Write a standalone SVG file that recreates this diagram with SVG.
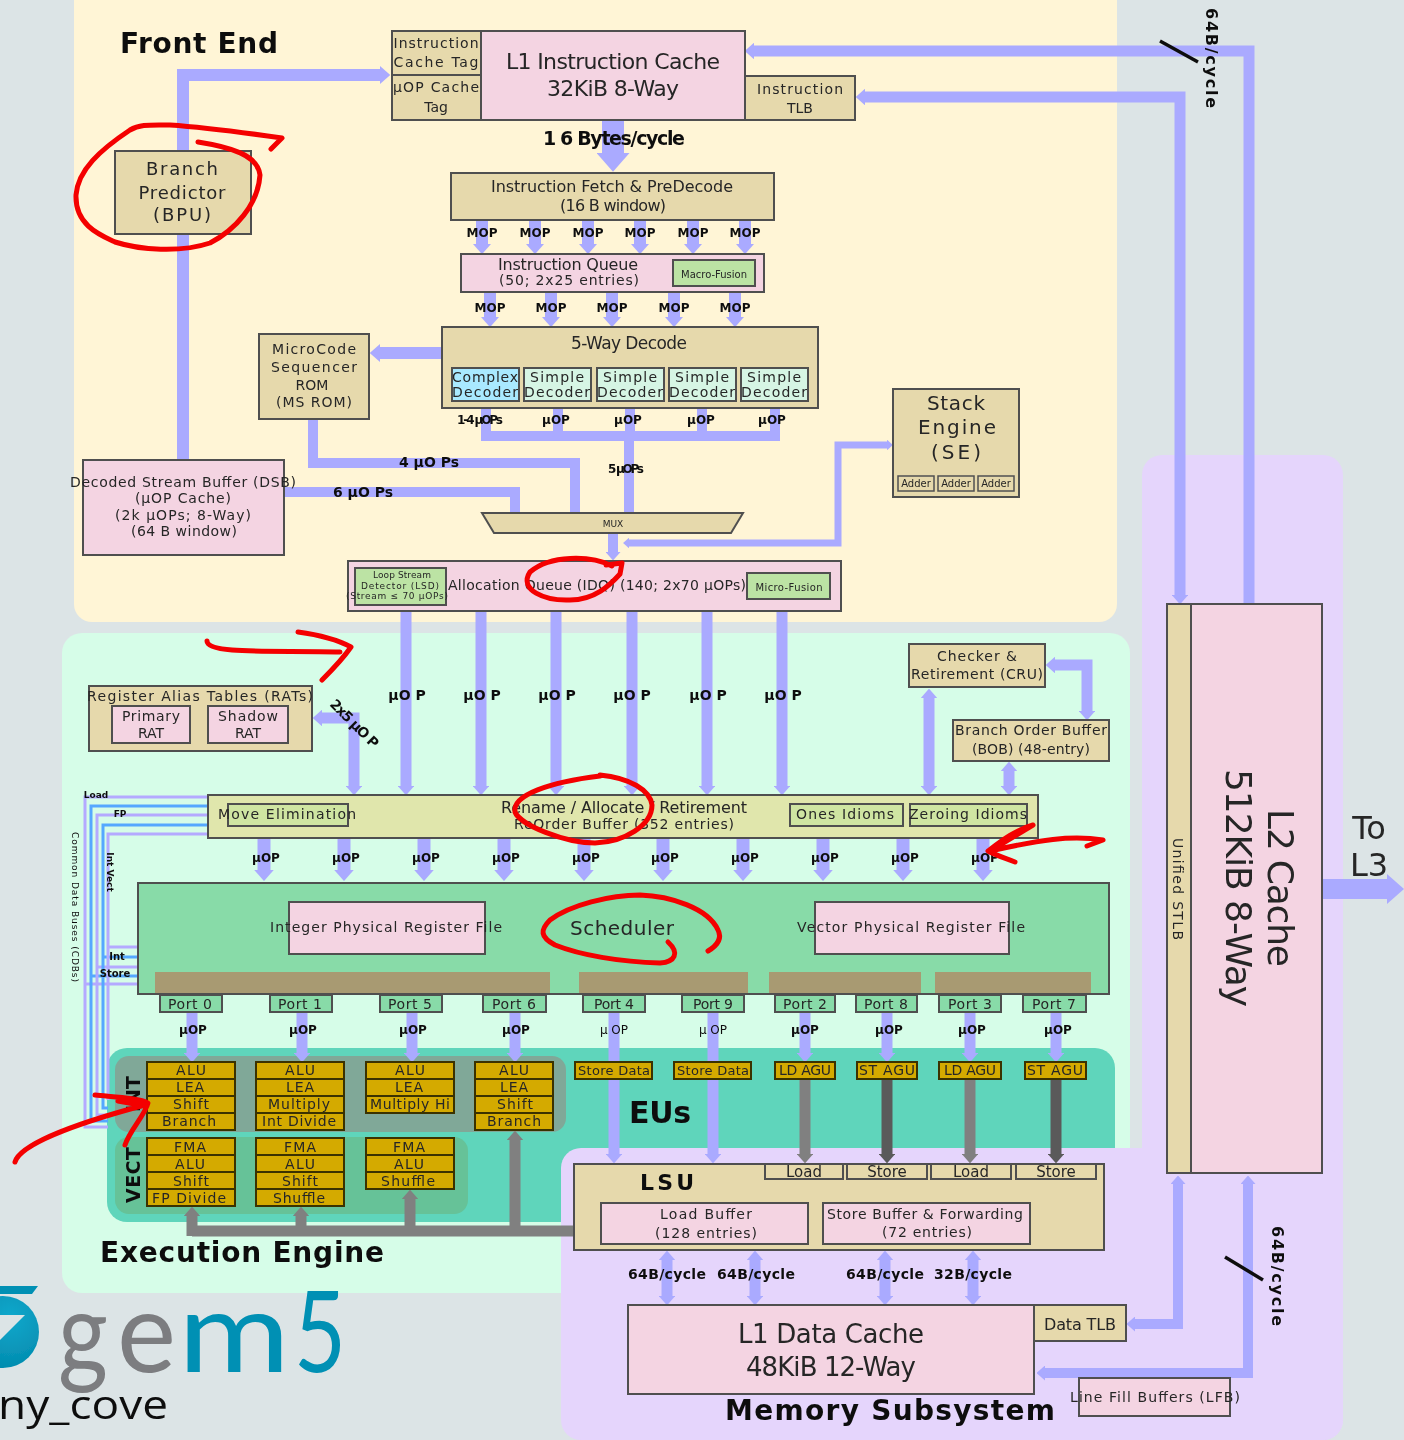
<svg xmlns="http://www.w3.org/2000/svg" width="1404" height="1440" viewBox="0 0 1404 1440">
<style>
text{font-family:"DejaVu Sans",sans-serif;text-anchor:middle;fill:#262626;font-size:14px}
.b{font-weight:700;fill:#111}
.s{font-size:12px;font-weight:700;fill:#111}
.m{font-size:14px;font-weight:700;fill:#111}
.h{font-size:28px;font-weight:700;fill:#111}
.box{stroke:#505050;stroke-width:2}
.tan{fill:#e6d9ac}.pink{fill:#f4d4e2}.grn{fill:#bce3a4}.dec{fill:#d6f5e4}.mint{fill:#88dba8}.gold{fill:#d4aa00;stroke:#3a3000;stroke-width:2}.lime{fill:#e0e6ac}
.c{fill:none;stroke:#aaaaff;stroke-width:11}
.w7{stroke-width:7}.w10{stroke-width:10}.w12{stroke-width:12}.w13{stroke-width:13}.w20{stroke-width:20}.w22{stroke-width:22}
.e{marker-end:url(#a)}.st{marker-start:url(#r)}
.g{stroke:#808080}.d{stroke:#5a5a5a}
.bus{fill:none;stroke-width:3}
.l{stroke:#b4aaff}.u{stroke:#55a8ff}
.red{fill:none;stroke:#f40000;stroke-width:5;stroke-linecap:round;stroke-linejoin:round}
.lg{font-family:Lato,sans-serif;font-size:112px;font-weight:400;text-anchor:start}
</style>
<defs>
<marker id="a" viewBox="0 0 10 10" refX="0" refY="5" markerWidth="0.85" markerHeight="1.5" orient="auto" preserveAspectRatio="none"><path d="M0 0L10 5L0 10Z" fill="context-stroke"/></marker>
<marker id="r" viewBox="0 0 10 10" refX="10" refY="5" markerWidth="0.85" markerHeight="1.5" orient="auto" preserveAspectRatio="none"><path d="M10 0L0 5L10 10Z" fill="context-stroke"/></marker>
<radialGradient id="logo" cx="0.6" cy="0.3" r="0.8"><stop offset="0" stop-color="#12a8cc"/><stop offset="1" stop-color="#0088ab"/></radialGradient>
<filter id="soft" x="0" y="0" width="100%" height="100%" filterUnits="userSpaceOnUse"><feGaussianBlur stdDeviation="0.55"/></filter>
</defs>
<rect width="1404" height="1440" fill="#dce4e6"/>
<g filter="url(#soft)">
<g id="regions">
<rect x="74" y="-20" width="1043" height="642" rx="18" fill="#fff5d6"/>
<rect x="62" y="633" width="1068" height="660" rx="20" fill="#d6fde8"/>
<rect x="107" y="1048" width="1008" height="174" rx="20" fill="#5fd5bb"/>
<rect x="115" y="1056" width="451" height="76" rx="14" fill="#80a898"/>
<rect x="115" y="1137" width="353" height="77" rx="14" fill="#66c298"/>
<rect x="1142" y="455" width="201" height="985" rx="20" fill="#e5d5fc"/>
<rect x="561" y="1148" width="782" height="292" rx="20" fill="#e5d5fc"/>
</g>
<g id="connectors">
<path class="bus l" d="M208 797H85V1127H108M138 984H85"/>
<path class="bus u" d="M208 806H91V1121H108M138 976H91"/>
<path class="bus l" d="M208 815H97V1115H108M138 967H97"/>
<path class="bus u" d="M208 825H103V1108H108M138 957H103"/>
<path class="bus l" d="M208 834H108V1100M138 947H108"/>
<path class="c w12 e" d="M183 460V75H380"/>
<path class="c e" d="M1249 604V51H754"/>
<path class="c e st" d="M1180 595V97H865"/>
<path class="c w22 e" d="M613 120V153"/>
<path class="c w12 e" d="M482 220V244"/><path class="c w12 e" d="M535 220V244"/><path class="c w12 e" d="M588 220V244"/><path class="c w12 e" d="M640 220V244"/><path class="c w12 e" d="M693 220V244"/><path class="c w12 e" d="M745 220V244"/>
<path class="c w12 e" d="M490 292V317"/><path class="c w12 e" d="M551 292V317"/><path class="c w12 e" d="M612 292V317"/><path class="c w12 e" d="M674 292V317"/><path class="c w12 e" d="M735 292V317"/>
<path class="c w12 e" d="M442 353H380"/>
<path class="c w10" d="M486 408V436H775V408M558 408V436M630 408V436M702 408V436M629 436V513"/>
<path class="c w10" d="M313 419V463H575V513"/>
<path class="c w10" d="M284 492H515V513"/>
<path class="c w10 e" d="M613 533V552"/>
<path class="c w7 e st" d="M629 543H838V445H887"/>
<path class="c e" d="M406 611V786"/><path class="c e" d="M481 611V786"/><path class="c e" d="M556 611V786"/><path class="c e" d="M632 611V786"/><path class="c e" d="M707 611V786"/><path class="c e" d="M782 611V786"/>
<path class="c e st" d="M354 786V718H322"/>
<path class="c e st" d="M929 698V786"/>
<path class="c e st" d="M1055 665H1087V711"/>
<path class="c e st" d="M1009 771V786"/>
<path class="c w13 e" d="M264 838V870"/><path class="c w13 e" d="M344 838V870"/><path class="c w13 e" d="M424 838V870"/><path class="c w13 e" d="M504 838V870"/><path class="c w13 e" d="M584 838V870"/><path class="c w13 e" d="M663 838V870"/><path class="c w13 e" d="M743 838V870"/><path class="c w13 e" d="M823 838V870"/><path class="c w13 e" d="M903 838V870"/><path class="c w13 e" d="M983 838V870"/>
<path class="c e" d="M192 1012V1053"/><path class="c e" d="M302 1012V1053"/><path class="c e" d="M412 1012V1053"/><path class="c e" d="M515 1012V1053"/><path class="c e" d="M805 1012V1053"/><path class="c e" d="M887 1012V1053"/><path class="c e" d="M970 1012V1053"/><path class="c e" d="M1056 1012V1053"/>
<path class="c e" d="M614 1012V1154"/><path class="c e" d="M713 1012V1154"/>
<path class="c g e" d="M805 1079V1154"/><path class="c d e" d="M887 1079V1154"/><path class="c g e" d="M970 1079V1154"/><path class="c d e" d="M1056 1079V1154"/>
<path class="c g" d="M574 1231H192"/>
<path class="c g e" d="M192 1236V1216"/><path class="c g e" d="M301 1231V1216"/><path class="c g e" d="M410 1231V1199"/><path class="c g e" d="M515 1231V1140"/>
<path class="c e st" d="M667 1260V1296"/><path class="c e st" d="M755 1260V1296"/><path class="c e st" d="M885 1260V1296"/><path class="c e st" d="M973 1260V1296"/>
<path class="c w10 e st" d="M1135 1324H1178V1184"/>
<path class="c w10 e st" d="M1045 1373H1248V1184"/>
<path class="c w20 e" d="M1322 889H1387"/>
<path d="M1160 41L1198 62M1225 1257L1263 1280" stroke="#111" stroke-width="3.5"/>
<text class="s" x="482" y="237">MOP</text><text class="s" x="535" y="237">MOP</text><text class="s" x="588" y="237">MOP</text><text class="s" x="640" y="237">MOP</text><text class="s" x="693" y="237">MOP</text><text class="s" x="745" y="237">MOP</text>
<text class="s" x="490" y="312">MOP</text><text class="s" x="551" y="312">MOP</text><text class="s" x="612" y="312">MOP</text><text class="s" x="674" y="312">MOP</text><text class="s" x="735" y="312">MOP</text>
<text class="s" x="480" y="424" textLength="46">1-4 µOPs</text><text class="s" x="556" y="424">µOP</text><text class="s" x="628" y="424">µOP</text><text class="s" x="701" y="424">µOP</text><text class="s" x="772" y="424">µOP</text>
<text class="m" x="429" y="467">4 µO Ps</text><text class="m" x="363" y="497">6 µO Ps</text><text class="s" x="626" y="473" textLength="36">5 µOPs</text>
<text class="b" x="614" y="145" style="font-size:19px" textLength="142">1 6 Bytes/cycle</text>
<text class="m" x="407" y="700">µO P</text><text class="m" x="482" y="700">µO P</text><text class="m" x="557" y="700">µO P</text><text class="m" x="632" y="700">µO P</text><text class="m" x="708" y="700">µO P</text><text class="m" x="783" y="700">µO P</text>
<text class="m" transform="translate(351 727) rotate(45)" textLength="62">2x5 µO P</text>
<text class="s" x="266" y="862">µOP</text><text class="s" x="346" y="862">µOP</text><text class="s" x="426" y="862">µOP</text><text class="s" x="506" y="862">µOP</text><text class="s" x="586" y="862">µOP</text><text class="s" x="665" y="862">µOP</text><text class="s" x="745" y="862">µOP</text><text class="s" x="825" y="862">µOP</text><text class="s" x="905" y="862">µOP</text><text class="s" x="985" y="862">µOP</text>
<text class="s" x="193" y="1034">µOP</text><text class="s" x="303" y="1034">µOP</text><text class="s" x="413" y="1034">µOP</text><text class="s" x="516" y="1034">µOP</text><text class="s" x="614" y="1034" style="font-weight:400">µ OP</text><text class="s" x="713" y="1034" style="font-weight:400">µ OP</text><text class="s" x="805" y="1034">µOP</text><text class="s" x="889" y="1034">µOP</text><text class="s" x="972" y="1034">µOP</text><text class="s" x="1058" y="1034">µOP</text>
<text class="s" x="96" y="798" style="font-size:9px">Load</text><text class="s" x="120" y="817" style="font-size:9px">FP</text><text class="s" x="117" y="960" style="font-size:10px">Int</text><text class="s" x="115" y="977" style="font-size:10px">Store</text>
<text class="s" transform="translate(107 872) rotate(90)" style="font-size:9px">Int Vect</text>
<text class="s" transform="translate(72 907) rotate(90)" style="font-size:9px;font-weight:400" textLength="150">Common Data Buses (CDBs)</text>
<text class="m" x="667" y="1279" textLength="78">64B/cycle</text><text class="m" x="756" y="1279" textLength="78">64B/cycle</text><text class="m" x="885" y="1279" textLength="78">64B/cycle</text><text class="m" x="973" y="1279" textLength="78">32B/cycle</text>
<text class="m" transform="translate(1206 58) rotate(90)" style="font-size:16px" textLength="100">64B/cycle</text>
<text class="m" transform="translate(1272 1276) rotate(90)" style="font-size:16px" textLength="100">64B/cycle</text>
</g>
<g id="frontend-title"><text class="h" x="199" y="53" textLength="158">Front End</text></g>
<g id="exec-title"><text class="h" x="242" y="1262" textLength="284">Execution Engine</text></g>
<g id="mem-title"><text class="h" x="890" y="1420" textLength="330">Memory Subsystem</text></g>
<g id="eus-title"><text class="h" x="660" y="1123" style="font-size:30px" textLength="62">EUs</text></g>
<g id="inst-tag"><rect class="box tan" x="392" y="31" width="89" height="44"/><text x="436" y="48" textLength="85">Instruction</text><text x="436" y="67" textLength="85">Cache Tag</text></g>
<g id="uop-tag"><rect class="box tan" x="392" y="75" width="89" height="45"/><text x="436" y="92" textLength="86">µOP Cache</text><text x="436" y="112">Tag</text></g>
<g id="l1i"><rect class="box pink" x="481" y="31" width="264" height="89"/><text x="613" y="69" style="font-size:22px" textLength="214">L1 Instruction Cache</text><text x="613" y="96" style="font-size:22px" textLength="132">32KiB 8-Way</text></g>
<g id="itlb"><rect class="box tan" x="745" y="76" width="110" height="44"/><text x="800" y="94" textLength="86">Instruction</text><text x="800" y="113">TLB</text></g>
<g id="bpu"><rect class="box tan" x="115" y="151" width="136" height="83"/><text x="182" y="175" style="font-size:18px" textLength="72">Branch</text><text x="182" y="199" style="font-size:18px" textLength="87">Predictor</text><text x="182" y="221" style="font-size:18px" textLength="58">(BPU)</text></g>
<g id="fetch"><rect class="box tan" x="451" y="173" width="323" height="47"/><text x="612" y="192" style="font-size:16px" textLength="242">Instruction Fetch &amp; PreDecode</text><text x="613" y="211" style="font-size:16px" textLength="106">(16 B window)</text></g>
<g id="iq"><rect class="box pink" x="461" y="254" width="303" height="38"/><text x="568" y="270" style="font-size:16px" textLength="140">Instruction Queue</text><text x="569" y="285" textLength="140">(50; 2x25 entries)</text><rect class="box grn" x="673" y="260" width="82" height="26"/><text x="714" y="278" style="font-size:10px" textLength="66">Macro-Fusion</text></g>
<g id="decode"><rect class="box tan" x="442" y="327" width="376" height="81"/><text x="629" y="349" style="font-size:17px" textLength="116">5-Way Decode</text>
<rect class="box" fill="#a9e9ff" x="452" y="368" width="67" height="33"/><text x="485" y="382" textLength="66">Complex</text><text x="485" y="397" textLength="66">Decoder</text>
<rect class="box dec" x="524" y="368" width="67" height="33"/><text x="557" y="382" textLength="54">Simple</text><text x="557" y="397" textLength="66">Decoder</text>
<rect class="box dec" x="597" y="368" width="67" height="33"/><text x="630" y="382" textLength="54">Simple</text><text x="630" y="397" textLength="66">Decoder</text>
<rect class="box dec" x="669" y="368" width="67" height="33"/><text x="702" y="382" textLength="54">Simple</text><text x="702" y="397" textLength="66">Decoder</text>
<rect class="box dec" x="741" y="368" width="67" height="33"/><text x="774" y="382" textLength="54">Simple</text><text x="774" y="397" textLength="66">Decoder</text></g>
<g id="msrom"><rect class="box tan" x="259" y="334" width="110" height="85"/><text x="314" y="354" textLength="84">MicroCode</text><text x="314" y="372" textLength="86">Sequencer</text><text x="312" y="390">ROM</text><text x="314" y="407" textLength="76">(MS ROM)</text></g>
<g id="se"><rect class="box tan" x="893" y="389" width="126" height="108"/><text x="956" y="410" style="font-size:20px" textLength="58">Stack</text><text x="957" y="434" style="font-size:20px" textLength="78">Engine</text><text x="956" y="459" style="font-size:20px" textLength="50">(SE)</text>
<rect class="box tan" style="stroke-width:1.5" x="898" y="476" width="36" height="15"/><text style="font-size:10px" x="916" y="487">Adder</text><rect class="box tan" style="stroke-width:1.5" x="938" y="476" width="36" height="15"/><text style="font-size:10px" x="956" y="487">Adder</text><rect class="box tan" style="stroke-width:1.5" x="978" y="476" width="36" height="15"/><text style="font-size:10px" x="996" y="487">Adder</text></g>
<g id="dsb"><rect class="box pink" x="83" y="460" width="201" height="95"/><text x="183" y="487" textLength="226">Decoded Stream Buffer (DSB)</text><text x="183" y="503" textLength="96">(µOP Cache)</text><text x="183" y="520" textLength="136">(2k µOPs; 8-Way)</text><text x="184" y="536" textLength="106">(64 B window)</text></g>
<g id="mux"><polygon class="box tan" points="482,513 743,513 731,533 494,533"/><text x="613" y="527" style="font-size:9px">MUX</text></g>
<g id="idq"><rect class="box pink" x="348" y="561" width="493" height="50"/><text x="597" y="590" textLength="298">Allocation Queue (IDQ) (140; 2x70 µOPs)</text>
<rect class="box grn" x="355" y="568" width="91" height="37"/><text x="402" y="578" style="font-size:9px" textLength="58">Loop Stream</text><text x="400" y="589" style="font-size:9px" textLength="78">Detector (LSD)</text><text x="397" y="599" style="font-size:9px" textLength="102">(Stream ≤ 70 µOPs)</text>
<rect class="box grn" x="747" y="573" width="83" height="26"/><text x="789" y="591" style="font-size:10px" textLength="67">Micro-Fusion</text></g>
<g id="cru"><rect class="box tan" x="909" y="644" width="136" height="43"/><text x="977" y="661" textLength="80">Checker &amp;</text><text x="977" y="679" textLength="132">Retirement (CRU)</text></g>
<g id="bob"><rect class="box tan" x="953" y="720" width="156" height="41"/><text x="1031" y="735" textLength="152">Branch Order Buffer</text><text x="1031" y="754" textLength="118">(BOB) (48-entry)</text></g>
<g id="rat"><rect class="box tan" x="89" y="686" width="223" height="65"/><text x="200" y="701" textLength="226">Register Alias Tables (RATs)</text><rect class="box pink" x="112" y="706" width="78" height="37"/><text x="151" y="721" textLength="58">Primary</text><text x="151" y="738">RAT</text><rect class="box pink" x="208" y="706" width="80" height="37"/><text x="248" y="721" textLength="60">Shadow</text><text x="248" y="738">RAT</text></g>
<g id="rob"><rect class="box lime" x="208" y="795" width="830" height="43"/><text x="624" y="813" style="font-size:16px" textLength="246">Rename / Allocate / Retirement</text><text x="624" y="829" textLength="220">ReOrder Buffer (352 entries)</text>
<rect class="box" fill="#cfe5a2" x="228" y="804" width="120" height="22"/><text x="287" y="819" textLength="138">Move Elimination</text>
<rect class="box" fill="#cfe5a2" x="790" y="804" width="113" height="22"/><text x="845" y="819" textLength="98">Ones Idioms</text>
<rect class="box" fill="#cfe5a2" x="910" y="804" width="117" height="22"/><text x="968" y="819" textLength="118">Zeroing Idioms</text></g>
<g id="scheduler"><rect class="box mint" x="138" y="883" width="971" height="111"/><rect class="box pink" x="289" y="902" width="196" height="52"/><text x="386" y="932" textLength="232">Integer Physical Register File</text><rect class="box pink" x="815" y="902" width="194" height="52"/><text x="911" y="932" textLength="228">Vector Physical Register File</text><text x="622" y="935" style="font-size:20px" textLength="104">Scheduler</text>
<rect fill="#a89a72" x="155" y="972" width="395" height="21"/><rect fill="#a89a72" x="579" y="972" width="169" height="21"/><rect fill="#a89a72" x="769" y="972" width="152" height="21"/><rect fill="#a89a72" x="935" y="972" width="156" height="21"/></g>
<g id="ports">
<rect class="box mint" x="160" y="995" width="62" height="17"/><text x="190" y="1009" textLength="44">Port 0</text>
<rect class="box mint" x="270" y="995" width="62" height="17"/><text x="300" y="1009" textLength="44">Port 1</text>
<rect class="box mint" x="380" y="995" width="62" height="17"/><text x="410" y="1009" textLength="44">Port 5</text>
<rect class="box mint" x="483" y="995" width="63" height="17"/><text x="514" y="1009" textLength="44">Port 6</text>
<rect class="box mint" x="583" y="995" width="62" height="17"/><text x="614" y="1009" textLength="40">Port 4</text>
<rect class="box mint" x="682" y="995" width="62" height="17"/><text x="713" y="1009" textLength="40">Port 9</text>
<rect class="box mint" x="775" y="995" width="60" height="17"/><text x="805" y="1009" textLength="44">Port 2</text>
<rect class="box mint" x="856" y="995" width="61" height="17"/><text x="886" y="1009" textLength="44">Port 8</text>
<rect class="box mint" x="939" y="995" width="62" height="17"/><text x="970" y="1009" textLength="44">Port 3</text>
<rect class="box mint" x="1023" y="995" width="63" height="17"/><text x="1054" y="1009" textLength="44">Port 7</text>
</g>
<g id="eu-labels"><text class="b" transform="translate(140 1094) rotate(-90)" style="font-size:19px">INT</text><text class="b" transform="translate(140 1175) rotate(-90)" style="font-size:19px" textLength="56">VECT</text></g>
<g id="eu0"><rect class="gold" x="147" y="1062" width="88" height="17"/><text x="191" y="1075" textLength="30">ALU</text><rect class="gold" x="147" y="1079" width="88" height="17"/><text x="190" y="1092" textLength="28">LEA</text><rect class="gold" x="147" y="1096" width="88" height="17"/><text x="191" y="1109" textLength="36">Shift</text><rect class="gold" x="147" y="1113" width="88" height="17"/><text x="189" y="1126" textLength="54">Branch</text></g>
<g id="eu1"><rect class="gold" x="256" y="1062" width="88" height="17"/><text x="300" y="1075" textLength="30">ALU</text><rect class="gold" x="256" y="1079" width="88" height="17"/><text x="300" y="1092" textLength="28">LEA</text><rect class="gold" x="256" y="1096" width="88" height="17"/><text x="299" y="1109" textLength="62">Multiply</text><rect class="gold" x="256" y="1113" width="88" height="17"/><text x="299" y="1126" textLength="74">Int Divide</text></g>
<g id="eu5"><rect class="gold" x="366" y="1062" width="88" height="17"/><text x="410" y="1075" textLength="30">ALU</text><rect class="gold" x="366" y="1079" width="88" height="17"/><text x="409" y="1092" textLength="28">LEA</text><rect class="gold" x="366" y="1096" width="88" height="17"/><text x="410" y="1109" textLength="80">Multiply Hi</text></g>
<g id="eu6"><rect class="gold" x="475" y="1062" width="78" height="17"/><text x="514" y="1075" textLength="30">ALU</text><rect class="gold" x="475" y="1079" width="78" height="17"/><text x="514" y="1092" textLength="28">LEA</text><rect class="gold" x="475" y="1096" width="78" height="17"/><text x="515" y="1109" textLength="36">Shift</text><rect class="gold" x="475" y="1113" width="78" height="17"/><text x="514" y="1126" textLength="54">Branch</text></g>
<g id="v0"><rect class="gold" x="147" y="1138" width="88" height="17"/><text x="190" y="1152" textLength="32">FMA</text><rect class="gold" x="147" y="1155" width="88" height="17"/><text x="190" y="1169" textLength="30">ALU</text><rect class="gold" x="147" y="1172" width="88" height="17"/><text x="191" y="1186" textLength="36">Shift</text><rect class="gold" x="147" y="1189" width="88" height="17"/><text x="189" y="1203" textLength="74">FP Divide</text></g>
<g id="v1"><rect class="gold" x="256" y="1138" width="88" height="17"/><text x="300" y="1152" textLength="32">FMA</text><rect class="gold" x="256" y="1155" width="88" height="17"/><text x="300" y="1169" textLength="30">ALU</text><rect class="gold" x="256" y="1172" width="88" height="17"/><text x="300" y="1186" textLength="36">Shift</text><rect class="gold" x="256" y="1189" width="88" height="17"/><text x="299" y="1203" textLength="52">Shuffle</text></g>
<g id="v5"><rect class="gold" x="366" y="1138" width="88" height="17"/><text x="409" y="1152" textLength="32">FMA</text><rect class="gold" x="366" y="1155" width="88" height="17"/><text x="409" y="1169" textLength="30">ALU</text><rect class="gold" x="366" y="1172" width="88" height="17"/><text x="408" y="1186" textLength="54">Shuffle</text></g>
<g id="agus">
<rect class="gold" x="575" y="1062" width="77" height="17"/><text x="614" y="1075" style="font-size:13px" textLength="72">Store Data</text>
<rect class="gold" x="674" y="1062" width="77" height="17"/><text x="713" y="1075" style="font-size:13px" textLength="72">Store Data</text>
<rect class="gold" x="775" y="1062" width="60" height="17"/><text x="805" y="1075" textLength="52">LD AGU</text>
<rect class="gold" x="857" y="1062" width="60" height="17"/><text x="887" y="1075" textLength="56">ST AGU</text>
<rect class="gold" x="939" y="1062" width="62" height="17"/><text x="970" y="1075" textLength="52">LD AGU</text>
<rect class="gold" x="1025" y="1062" width="61" height="17"/><text x="1055" y="1075" textLength="56">ST AGU</text></g>
<g id="lsu"><rect class="box tan" x="574" y="1164" width="530" height="86"/><text class="b" x="667" y="1190" style="font-size:22px" textLength="54">LSU</text>
<rect class="box tan" x="765" y="1164" width="78" height="15"/><text x="804" y="1177" style="font-size:15px">Load</text><rect class="box tan" x="847" y="1164" width="80" height="15"/><text x="887" y="1177" style="font-size:15px">Store</text><rect class="box tan" x="931" y="1164" width="80" height="15"/><text x="971" y="1177" style="font-size:15px">Load</text><rect class="box tan" x="1016" y="1164" width="80" height="15"/><text x="1056" y="1177" style="font-size:15px">Store</text>
<rect class="box pink" x="601" y="1203" width="207" height="41"/><text x="706" y="1219" textLength="92">Load Buffer</text><text x="706" y="1238" textLength="102">(128 entries)</text>
<rect class="box pink" x="823" y="1203" width="207" height="41"/><text x="925" y="1219" textLength="196">Store Buffer &amp; Forwarding</text><text x="927" y="1237" textLength="90">(72 entries)</text></g>
<g id="l1d"><rect class="box pink" x="628" y="1305" width="406" height="89"/><text x="831" y="1343" style="font-size:26px" textLength="186">L1 Data Cache</text><text x="831" y="1376" style="font-size:26px" textLength="170">48KiB 12-Way</text></g>
<g id="dtlb"><rect class="box tan" x="1034" y="1305" width="92" height="36"/><text x="1080" y="1330" style="font-size:16px" textLength="72">Data TLB</text></g>
<g id="lfb"><rect class="box pink" x="1079" y="1378" width="151" height="38"/><text x="1155" y="1402" textLength="170">Line Fill Buffers (LFB)</text></g>
<g id="l2"><rect class="box pink" x="1191" y="604" width="131" height="569"/><rect class="box tan" x="1167" y="604" width="24" height="569"/><text transform="translate(1173 889) rotate(90)" textLength="102">Unified STLB</text><text transform="translate(1268 888) rotate(90)" style="font-size:36px" textLength="158">L2 Cache</text><text transform="translate(1226 888) rotate(90)" style="font-size:36px" textLength="238">512KiB 8-Way</text></g>
<g id="l3"><text x="1369" y="839" style="font-size:32px">To</text><text x="1369" y="876" style="font-size:32px">L3</text></g>
<g id="logo">
<polygon points="0,1286 38,1286 32,1294 0,1294" fill="#0090b4"/>
<circle cx="3" cy="1332" r="36" fill="url(#logo)"/>
<polygon points="0,1315 25,1315 0,1340" fill="#dce4e6"/>
<text class="lg" x="58" y="1372" style="fill:#7c7d80" textLength="50" lengthAdjust="spacingAndGlyphs">g</text>
<text class="lg" x="117" y="1372" style="fill:#7c7d80" textLength="59" lengthAdjust="spacingAndGlyphs">e</text>
<text class="lg" x="178" y="1372" style="fill:#0090b4" textLength="112" lengthAdjust="spacingAndGlyphs">m</text>
<text class="lg" x="294" y="1372" style="fill:#0090b4" textLength="52" lengthAdjust="spacingAndGlyphs">5</text>
<text x="-2" y="1419" style="font-family:'Open Sans',sans-serif;font-size:41px;text-anchor:start;fill:#111" textLength="170" lengthAdjust="spacingAndGlyphs">ny_cove</text>
</g>
</g>
<g id="scribbles">
<path class="red" d="M271 149L282 138C240 132 200 127 170 125C150 125 140 124 130 130C100 150 78 170 76 195C75 225 100 235 115 242C140 250 180 253 210 243C235 230 258 205 260 175C258 155 230 147 198 142"/>
<path class="red" d="M207 641C207 655 280 650 340 652M298 632C320 635 338 640 351 647C342 660 332 670 322 680"/>
<path class="red" d="M612 566C590 555 550 555 530 572C518 590 545 601 570 600C595 600 610 585 620 574L622 563L606 565"/>
<path class="red" d="M600 775C630 778 650 790 652 805C652 825 625 842 595 843C565 843 520 825 515 812C512 795 550 782 600 776"/>
<path class="red" d="M708 951C718 945 722 938 718 930C708 908 670 896 640 895C610 895 570 905 550 920C540 930 540 937 555 945C580 955 620 962 660 963C675 962 680 953 668 942"/>
<path class="red" d="M1087 846L1103 840C1070 835 1040 840 990 851L1033 825C1015 830 1000 842 988 851C995 855 1005 858 1015 862"/>
<path class="red" d="M15 1162C20 1145 70 1125 145 1105M95 1095C115 1097 140 1098 148 1103C145 1115 130 1130 125 1145M118 1101L140 1105"/>
</g>
</svg>
